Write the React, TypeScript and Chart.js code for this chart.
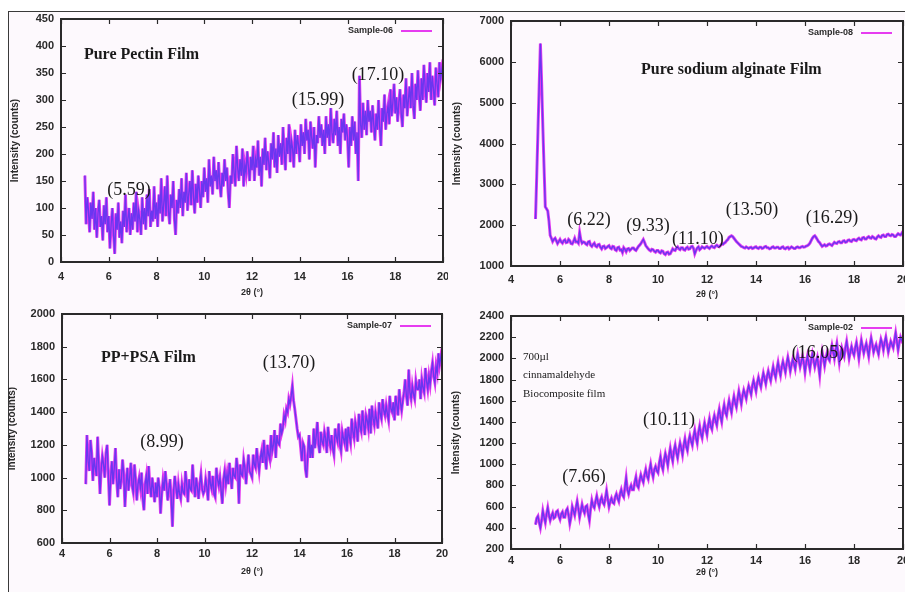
import { useEffect, useRef } from "react";
import { Chart, registerables } from "chart.js";

Chart.register(...registerables);

// Diffraction angle grid (2θ, degrees), 0.05° steps
const twoTheta = [
  5.00, 5.05, 5.10, 5.15, 5.20, 5.25, 5.30, 5.35, 5.40, 5.45, 5.50, 5.55, 5.60, 5.65, 5.70, 5.75, 5.80, 5.85, 5.90, 5.95,
  6.00, 6.05, 6.10, 6.15, 6.20, 6.25, 6.30, 6.35, 6.40, 6.45, 6.50, 6.55, 6.60, 6.65, 6.70, 6.75, 6.80, 6.85, 6.90, 6.95,
  7.00, 7.05, 7.10, 7.15, 7.20, 7.25, 7.30, 7.35, 7.40, 7.45, 7.50, 7.55, 7.60, 7.65, 7.70, 7.75, 7.80, 7.85, 7.90, 7.95,
  8.00, 8.05, 8.10, 8.15, 8.20, 8.25, 8.30, 8.35, 8.40, 8.45, 8.50, 8.55, 8.60, 8.65, 8.70, 8.75, 8.80, 8.85, 8.90, 8.95,
  9.00, 9.05, 9.10, 9.15, 9.20, 9.25, 9.30, 9.35, 9.40, 9.45, 9.50, 9.55, 9.60, 9.65, 9.70, 9.75, 9.80, 9.85, 9.90, 9.95,
  10.00, 10.05, 10.10, 10.15, 10.20, 10.25, 10.30, 10.35, 10.40, 10.45, 10.50, 10.55, 10.60, 10.65, 10.70, 10.75, 10.80, 10.85, 10.90, 10.95,
  11.00, 11.05, 11.10, 11.15, 11.20, 11.25, 11.30, 11.35, 11.40, 11.45, 11.50, 11.55, 11.60, 11.65, 11.70, 11.75, 11.80, 11.85, 11.90, 11.95,
  12.00, 12.05, 12.10, 12.15, 12.20, 12.25, 12.30, 12.35, 12.40, 12.45, 12.50, 12.55, 12.60, 12.65, 12.70, 12.75, 12.80, 12.85, 12.90, 12.95,
  13.00, 13.05, 13.10, 13.15, 13.20, 13.25, 13.30, 13.35, 13.40, 13.45, 13.50, 13.55, 13.60, 13.65, 13.70, 13.75, 13.80, 13.85, 13.90, 13.95,
  14.00, 14.05, 14.10, 14.15, 14.20, 14.25, 14.30, 14.35, 14.40, 14.45, 14.50, 14.55, 14.60, 14.65, 14.70, 14.75, 14.80, 14.85, 14.90, 14.95,
  15.00, 15.05, 15.10, 15.15, 15.20, 15.25, 15.30, 15.35, 15.40, 15.45, 15.50, 15.55, 15.60, 15.65, 15.70, 15.75, 15.80, 15.85, 15.90, 15.95,
  16.00, 16.05, 16.10, 16.15, 16.20, 16.25, 16.30, 16.35, 16.40, 16.45, 16.50, 16.55, 16.60, 16.65, 16.70, 16.75, 16.80, 16.85, 16.90, 16.95,
  17.00, 17.05, 17.10, 17.15, 17.20, 17.25, 17.30, 17.35, 17.40, 17.45, 17.50, 17.55, 17.60, 17.65, 17.70, 17.75, 17.80, 17.85, 17.90, 17.95,
  18.00, 18.05, 18.10, 18.15, 18.20, 18.25, 18.30, 18.35, 18.40, 18.45, 18.50, 18.55, 18.60, 18.65, 18.70, 18.75, 18.80, 18.85, 18.90, 18.95,
  19.00, 19.05, 19.10, 19.15, 19.20, 19.25, 19.30, 19.35, 19.40, 19.45, 19.50, 19.55, 19.60, 19.65, 19.70, 19.75, 19.80, 19.85, 19.90, 19.95,
  20.00,
];

// Intensity (counts) — Sample-06, pure pectin film
const pectinCounts = [
  160, 70, 120, 95, 55, 110, 80, 130, 60, 100, 45, 90, 115, 65, 85, 40, 105, 70, 120, 55,
  85, 25, 70, 100, 50, 15, 90, 60, 110, 45, 75, 35, 95, 65, 125, 55, 80, 100, 50, 90,
  60, 110, 75, 130, 55, 95, 80, 50, 120, 70, 100, 60, 125, 85, 135, 65, 95, 75, 140, 80,
  110, 65, 125, 90, 155, 75, 105, 140, 85, 160, 95, 70, 125, 100, 150, 80, 50, 115, 90, 135,
  100, 155, 85, 130, 110, 165, 95, 125, 150, 105, 170, 120, 90, 145, 110, 160, 130, 100, 150, 120,
  175, 130, 155, 110, 190, 140, 160, 125, 195, 150, 170, 135, 185, 145, 120, 165, 140, 190, 150, 175,
  130, 100, 160, 145, 200, 165, 140, 215, 175, 150, 190, 160, 210, 140, 180, 165, 205, 175, 150, 195,
  170, 215, 150, 190, 175, 225, 160, 195, 140, 210, 180, 230, 170, 205, 185, 155, 220, 190, 240, 175,
  210, 165, 235, 195, 220, 180, 250, 205, 170, 230, 200, 255, 185, 225, 210, 175, 245, 200, 235, 215,
  185, 255, 215, 240, 200, 265, 225, 245, 190, 260, 230, 210, 250, 175, 235, 220, 270, 230, 255, 215,
  245, 200, 270, 230, 255, 215, 285, 240, 220, 265, 235, 280, 215, 250, 200, 265, 240, 275, 225, 255,
  230, 175, 250, 215, 270, 225, 260, 200, 240, 150, 345, 255, 230, 295, 245, 280, 235, 300, 260, 280,
  240, 290, 255, 225, 275, 245, 300, 250, 215, 285, 260, 310, 245, 275, 290, 255, 320, 270, 295, 330,
  275, 305, 260, 295, 320, 275, 250, 310, 285, 340, 270, 300, 325, 285, 350, 290, 265, 330, 300, 355,
  310, 280, 340, 300, 365, 325, 295, 350, 315, 370, 300, 345, 320, 290, 360, 330, 305, 370, 340, 355,
  375,
];

// Intensity (counts) — Sample-08, pure sodium alginate film
const alginateCounts = [
  2150, 3200, 4300, 5400, 6450, 5500, 4400, 3400, 2450, 2400, 2350, 2100, 1750, 1680, 1600, 1650, 1680, 1620, 1550, 1600,
  1650, 1590, 1560, 1620, 1640, 1570, 1580, 1650, 1620, 1550, 1540, 1600, 1680, 1590, 1600, 1560, 1820, 1640, 1560, 1590,
  1580, 1540, 1520, 1590, 1600, 1510, 1480, 1530, 1560, 1490, 1470, 1520, 1530, 1460, 1420, 1480, 1490, 1430, 1450, 1480,
  1500, 1440, 1420, 1480, 1470, 1400, 1380, 1450, 1460, 1390, 1400, 1330, 1450, 1410, 1350, 1420, 1430, 1380, 1410, 1440,
  1440, 1400, 1380, 1430, 1480, 1510, 1550, 1600, 1650, 1580, 1500, 1460, 1420, 1390, 1370, 1410, 1400, 1360, 1340, 1380,
  1380, 1340, 1320, 1370, 1360, 1300, 1280, 1330, 1340, 1290, 1300, 1360, 1420, 1390, 1380, 1440, 1470, 1420, 1400, 1450,
  1450, 1400, 1390, 1440, 1460, 1410, 1420, 1470, 1480, 1430, 1300, 1380, 1440, 1470, 1400, 1430, 1470, 1450, 1430, 1460,
  1480, 1450, 1430, 1470, 1490, 1460, 1450, 1490, 1510, 1480, 1470, 1500, 1540, 1530, 1560, 1580, 1620, 1650, 1700, 1720,
  1740, 1720, 1680, 1640, 1600, 1570, 1540, 1510, 1480, 1470, 1450, 1440, 1470, 1450, 1430, 1450, 1460, 1430, 1440, 1460,
  1470, 1440, 1430, 1460, 1460, 1430, 1440, 1470, 1480, 1450, 1450, 1420, 1430, 1460, 1470, 1440, 1440, 1460, 1460, 1430,
  1430, 1460, 1470, 1430, 1420, 1450, 1460, 1420, 1440, 1470, 1450, 1430, 1430, 1460, 1470, 1450, 1450, 1470, 1480, 1460,
  1470, 1490, 1500, 1520, 1560, 1620, 1680, 1720, 1740, 1700, 1650, 1600, 1570, 1520, 1480, 1500, 1520, 1490, 1500, 1530,
  1540, 1520, 1500, 1540, 1580, 1560, 1550, 1590, 1600, 1570, 1570, 1610, 1620, 1580, 1590, 1630, 1640, 1610, 1600, 1640,
  1650, 1630, 1620, 1660, 1680, 1650, 1640, 1690, 1700, 1660, 1660, 1700, 1720, 1690, 1680, 1720, 1700, 1670, 1660, 1710,
  1740, 1710, 1700, 1750, 1760, 1720, 1720, 1770, 1780, 1750, 1740, 1770, 1760, 1720, 1720, 1760, 1790, 1770, 1760, 1800,
  1850,
];

// Intensity (counts) — Sample-07, PP+PSA film
const ppPsaCounts = [
  960, 1260, 1100, 1040, 1230, 1150, 980, 1120, 1060, 1010, 1250, 1080, 900, 1050, 1130, 1080, 1000, 1150, 1200, 1020,
  830, 1000, 1100, 960, 1060, 1180, 990, 880, 1050, 930, 990, 1110, 1020, 820, 960, 1060, 920, 1000, 1090, 950,
  910, 1080, 990, 860, 960, 1000, 940, 1030, 870, 800, 960, 1010, 900, 1070, 950, 880, 1000, 930, 850, 970,
  880, 1000, 940, 780, 900, 980, 920, 1040, 960, 860, 930, 990, 870, 700, 920, 1010, 940, 870, 960, 900,
  870, 960, 910, 900, 1040, 960, 850, 990, 930, 920, 1080, 960, 880, 1000, 940, 870, 960, 1020, 930, 900,
  920, 990, 940, 860, 1040, 960, 930, 1010, 900, 880, 1060, 990, 950, 1000, 920, 840, 990, 1040, 960, 1020,
  960, 1090, 1000, 930, 1060, 1010, 1000, 1120, 1050, 840, 1080, 1020, 1010, 1110, 1060, 960, 1060, 1140, 1040, 1020,
  1000, 1140, 1080, 1060, 1180, 1100, 1040, 1120, 1160, 1090, 1230, 1120, 1050, 1200, 1140, 1110, 1260, 1160, 1200, 1290,
  1120, 1260, 1210, 1200, 1330, 1270, 1300, 1380, 1350, 1420, 1400, 1480, 1450, 1500, 1560, 1470, 1420, 1360, 1300, 1250,
  1260, 1180, 1100, 1210, 1190, 1050, 1000, 1150, 1260, 1120, 1200, 1120, 1300, 1180, 1250, 1340, 1200, 1150, 1280, 1220,
  1200, 1280, 1240, 1150, 1310, 1230, 1190, 1260, 1180, 1140, 1300, 1250, 1220, 1330, 1200, 1160, 1280, 1240, 1210, 1300,
  1160, 1310, 1250, 1210, 1360, 1280, 1240, 1340, 1300, 1220, 1390, 1310, 1280, 1410, 1330, 1260, 1380, 1350, 1300, 1420,
  1270, 1440, 1360, 1320, 1400, 1350, 1300, 1460, 1390, 1360, 1480, 1410, 1380, 1440, 1390, 1350, 1500, 1420, 1400, 1460,
  1350, 1500, 1440, 1380, 1540, 1460, 1410, 1470, 1520, 1600, 1500, 1440, 1660, 1520, 1480, 1560, 1510, 1480, 1590, 1540,
  1540, 1600, 1480, 1600, 1550, 1520, 1670, 1590, 1540, 1620, 1570, 1650, 1700, 1620, 1580, 1680, 1640, 1760, 1690, 1740,
  1700,
];

// Intensity (counts) — Sample-02, 700µl cinnamaldehyde biocomposite film
const cinnamaldehydeCounts = [
  430, 490, 510, 450, 400, 470, 560, 500, 450, 530, 590, 520, 470, 510, 540, 490, 500, 550, 560, 510,
  480, 530, 550, 500, 500, 560, 580, 520, 440, 500, 600, 560, 520, 590, 650, 580, 500, 560, 620, 570,
  540, 600, 610, 530, 470, 580, 660, 610, 590, 650, 700, 640, 600, 660, 690, 640, 620, 680, 750, 670,
  600, 650, 680, 640, 630, 690, 720, 680, 650, 720, 760, 710, 690, 780, 870, 760, 720, 770, 800, 760,
  760, 830, 880, 800, 780, 850, 900, 860, 830, 900, 950, 890, 860, 940, 1000, 930, 880, 950, 980, 940,
  920, 1010, 1070, 990, 950, 1040, 1100, 1050, 990, 1080, 1150, 1080, 1030, 1130, 1180, 1110, 1060, 1140, 1200, 1150,
  1090, 1180, 1240, 1170, 1130, 1220, 1270, 1220, 1180, 1260, 1320, 1250, 1200, 1300, 1360, 1290, 1250, 1330, 1390, 1330,
  1280, 1370, 1430, 1360, 1330, 1410, 1460, 1410, 1370, 1460, 1520, 1450, 1400, 1500, 1560, 1490, 1460, 1540, 1600, 1540,
  1490, 1580, 1640, 1580, 1540, 1620, 1690, 1630, 1570, 1650, 1700, 1660, 1620, 1690, 1740, 1700, 1660, 1740, 1790, 1740,
  1690, 1770, 1820, 1770, 1730, 1800, 1860, 1810, 1760, 1830, 1880, 1830, 1790, 1860, 1920, 1860, 1820, 1900, 1960, 1890,
  1840, 1920, 1970, 1920, 1870, 1950, 2010, 1950, 1880, 1940, 1990, 1950, 1900, 1980, 2040, 1980, 1920, 1970, 2020, 1960,
  1870, 1960, 2020, 1960, 1900, 1980, 2040, 1980, 1920, 1970, 2010, 1930, 1840, 1980, 2060, 2000, 1930, 2000, 2050, 2000,
  1980, 2060, 2120, 2060, 2000, 2080, 2140, 2050, 1960, 2040, 2100, 2060, 2020, 2100, 2160, 2080, 2000, 2060, 2110, 2060,
  2030, 2100, 2150, 2080, 2000, 2090, 2170, 2110, 2050, 2100, 2140, 2080, 2020, 2120, 2190, 2130, 2060, 2100, 2130, 2080,
  2040, 2120, 2180, 2140, 2080, 2150, 2200, 2130, 2060, 2110, 2160, 2130, 2100, 2170, 2240, 2160, 2080, 2150, 2200, 2170,
  2140,
];

// Peak labels and film names, placed in data coordinates (2θ, counts)
type Note = { text: string; x: number; y: number; kind: "title" | "peak" | "small"; align?: CanvasTextAlign };

const pectinNotes: Note[] = [
  { text: "Pure Pectin Film", x: 4.96, y: 383, kind: "title", align: "left" },
  { text: "(5.59)", x: 6.85, y: 133, kind: "peak" },
  { text: "(15.99)", x: 14.76, y: 300, kind: "peak" },
  { text: "(17.10)", x: 17.28, y: 346, kind: "peak" },
];

const alginateNotes: Note[] = [
  { text: "Pure sodium alginate Film", x: 9.31, y: 5800, kind: "title", align: "left" },
  { text: "(6.22)", x: 7.18, y: 2127, kind: "peak" },
  { text: "(9.33)", x: 9.59, y: 1980, kind: "peak" },
  { text: "(11.10)", x: 11.63, y: 1661, kind: "peak" },
  { text: "(13.50)", x: 13.84, y: 2371, kind: "peak" },
  { text: "(16.29)", x: 17.1, y: 2176, kind: "peak" },
];

const ppPsaNotes: Note[] = [
  { text: "PP+PSA Film", x: 5.64, y: 1731, kind: "title", align: "left" },
  { text: "(8.99)", x: 8.21, y: 1217, kind: "peak" },
  { text: "(13.70)", x: 13.56, y: 1700, kind: "peak" },
];

const cinnamaldehydeNotes: Note[] = [
  { text: "700µl", x: 4.49, y: 2013, kind: "small", align: "left" },
  { text: "cinnamaldehyde", x: 4.49, y: 1843, kind: "small", align: "left" },
  { text: "Biocomposite film", x: 4.49, y: 1663, kind: "small", align: "left" },
  { text: "(7.66)", x: 6.98, y: 880, kind: "peak" },
  { text: "(10.11)", x: 10.45, y: 1418, kind: "peak" },
  { text: "(16.05)", x: 16.53, y: 2051, kind: "peak" },
];

type PanelSpec = {
  legend: string;
  counts: number[];
  notes: Note[];
  yMin: number;
  yMax: number;
  yStep: number;
  box: { left: number; top: number; width: number; height: number };
  yAxisWidth: number;
  xAxisHeight: number;
  padTop: number;
  padRight: number;
  xLabelPad: number;
  yTitleOffset: number;
  xTitleOffset: number;
};

const panels: PanelSpec[] = [
  {
    legend: "Sample-06", counts: pectinCounts, notes: pectinNotes,
    yMin: 0, yMax: 450, yStep: 50,
    box: { left: 8, top: 12, width: 440, height: 295 },
    yAxisWidth: 53, xAxisHeight: 45, padTop: 7, padRight: 5, xLabelPad: 8,
    yTitleOffset: 46, xTitleOffset: 31,
  },
  {
    legend: "Sample-08", counts: alginateCounts, notes: alginateNotes,
    yMin: 1000, yMax: 7000, yStep: 1000,
    box: { left: 450, top: 12, width: 455, height: 300 },
    yAxisWidth: 61, xAxisHeight: 46, padTop: 9, padRight: 2, xLabelPad: 7,
    yTitleOffset: 54, xTitleOffset: 29,
  },
  {
    legend: "Sample-07", counts: ppPsaCounts, notes: ppPsaNotes,
    yMin: 600, yMax: 2000, yStep: 200,
    box: { left: 8, top: 300, width: 440, height: 290 },
    yAxisWidth: 54, xAxisHeight: 47, padTop: 14, padRight: 6, xLabelPad: 4,
    yTitleOffset: 50, xTitleOffset: 29,
  },
  {
    legend: "Sample-02", counts: cinnamaldehydeCounts, notes: cinnamaldehydeNotes,
    yMin: 200, yMax: 2400, yStep: 200,
    box: { left: 450, top: 300, width: 455, height: 292 },
    yAxisWidth: 61, xAxisHeight: 43, padTop: 16, padRight: 2, xLabelPad: 5,
    yTitleOffset: 55, xTitleOffset: 24,
  },
];

const INK = "#2a2a2a";
const MAGENTA = "#e63cf0";
const VIOLET = "#6a36f0";
const SANS = "'Liberation Sans', Arial, sans-serif";
const SERIF = "'Liberation Serif', 'Times New Roman', serif";

function gnuplotFrame(spec: PanelSpec) {
  return {
    id: "gnuplotFrame",
    afterDraw(chart: Chart) {
      const { ctx, chartArea: a } = chart;
      const xs = chart.scales.x;
      const ys = chart.scales.y;
      ctx.save();

      // inward tick marks on all four sides
      ctx.strokeStyle = INK;
      ctx.lineWidth = 1.2;
      ctx.beginPath();
      xs.ticks.forEach((t) => {
        const px = Math.round(xs.getPixelForValue(t.value)) + 0.5;
        ctx.moveTo(px, a.bottom);
        ctx.lineTo(px, a.bottom - 5);
        ctx.moveTo(px, a.top);
        ctx.lineTo(px, a.top + 5);
      });
      ys.ticks.forEach((t) => {
        const py = Math.round(ys.getPixelForValue(t.value)) + 0.5;
        ctx.moveTo(a.left, py);
        ctx.lineTo(a.left + 5, py);
        ctx.moveTo(a.right, py);
        ctx.lineTo(a.right - 5, py);
      });
      ctx.stroke();

      // plot border
      ctx.lineWidth = 2;
      ctx.strokeRect(a.left, a.top, a.right - a.left, a.bottom - a.top);

      // axis titles
      ctx.fillStyle = INK;
      ctx.font = `bold 9px ${SANS}`;
      ctx.textAlign = "center";
      ctx.textBaseline = "middle";
      ctx.fillText("2θ (°)", (a.left + a.right) / 2, a.bottom + spec.xTitleOffset);
      ctx.save();
      ctx.translate(a.left - spec.yTitleOffset, (a.top + a.bottom) / 2);
      ctx.rotate(-Math.PI / 2);
      ctx.font = `bold 10px ${SANS}`;
      ctx.fillText("Intensity (counts)", 0, 0);
      ctx.restore();

      // key: label followed by a line sample
      const ky = a.top + 12;
      ctx.font = `bold 9px ${SANS}`;
      ctx.textAlign = "right";
      ctx.fillText(spec.legend, a.right - 50, ky);
      ctx.strokeStyle = MAGENTA;
      ctx.lineWidth = 2;
      ctx.beginPath();
      ctx.moveTo(a.right - 42, ky);
      ctx.lineTo(a.right - 11, ky);
      ctx.stroke();

      // film names and peak positions
      ctx.fillStyle = "#1a1a1a";
      spec.notes.forEach((n) => {
        ctx.font =
          n.kind === "title"
            ? `bold 16px ${SERIF}`
            : n.kind === "small"
            ? `11px ${SERIF}`
            : `18px ${SERIF}`;
        ctx.textAlign = n.align ?? "center";
        ctx.textBaseline = "middle";
        ctx.fillText(n.text, xs.getPixelForValue(n.x), ys.getPixelForValue(n.y));
      });

      ctx.restore();
    },
  };
}

function XrdPanel({ spec }: { spec: PanelSpec }) {
  const ref = useRef<HTMLCanvasElement>(null);

  useEffect(() => {
    const points = twoTheta.map((x, i) => ({ x, y: spec.counts[i] }));
    const chart = new Chart(ref.current as HTMLCanvasElement, {
      type: "line",
      data: {
        datasets: [
          {
            // violet core, drawn on top
            label: spec.legend,
            data: points,
            borderColor: VIOLET,
            borderWidth: 1.4,
            pointRadius: 0,
            tension: 0,
            order: 0,
          },
          {
            // magenta halo underneath
            label: spec.legend + " halo",
            data: points,
            borderColor: MAGENTA,
            borderWidth: 3,
            pointRadius: 0,
            tension: 0,
            order: 1,
          },
        ],
      },
      options: {
        responsive: false,
        animation: false,
        events: [],
        layout: { padding: { left: 0, top: spec.padTop, right: spec.padRight, bottom: 0 } },
        plugins: { legend: { display: false }, tooltip: { enabled: false } },
        scales: {
          x: {
            type: "linear",
            min: 4,
            max: 20,
            grid: { display: false, drawTicks: false },
            border: { display: false },
            ticks: {
              stepSize: 2,
              padding: spec.xLabelPad,
              maxRotation: 0,
              autoSkip: false,
              color: INK,
              font: { family: SANS, size: 11, weight: "bold" },
              callback: (v: any) => String(v),
            },
            afterFit(scale: any) {
              scale.height = spec.xAxisHeight;
              scale.paddingLeft = 0;
              scale.paddingRight = 0;
            },
          },
          y: {
            type: "linear",
            min: spec.yMin,
            max: spec.yMax,
            grid: { display: false, drawTicks: false },
            border: { display: false },
            ticks: {
              stepSize: spec.yStep,
              padding: 7,
              autoSkip: false,
              color: INK,
              font: { family: SANS, size: 11, weight: "bold" },
              callback: (v: any) => String(v),
            },
            afterFit(scale: any) {
              scale.width = spec.yAxisWidth;
              scale.paddingTop = 0;
              scale.paddingBottom = 0;
            },
          },
        },
      },
      plugins: [gnuplotFrame(spec)],
    });
    return () => chart.destroy();
  }, [spec]);

  return (
    <canvas
      ref={ref}
      width={spec.box.width}
      height={spec.box.height}
      style={{ position: "absolute", left: spec.box.left, top: spec.box.top }}
    />
  );
}

export default function App() {
  return (
    <div
      style={{
        position: "fixed",
        left: 0,
        top: 0,
        width: 905,
        height: 592,
        background: "#ffffff",
        overflow: "hidden",
      }}
    >
      <div
        style={{
          position: "absolute",
          left: 8,
          top: 11,
          width: 897,
          height: 581,
          borderTop: "1.5px solid #3a3a3a",
          borderLeft: "1.5px solid #3a3a3a",
          background: "#fdf9fd",
        }}
      />
      {panels.map((p) => (
        <XrdPanel key={p.legend} spec={p} />
      ))}
    </div>
  );
}
